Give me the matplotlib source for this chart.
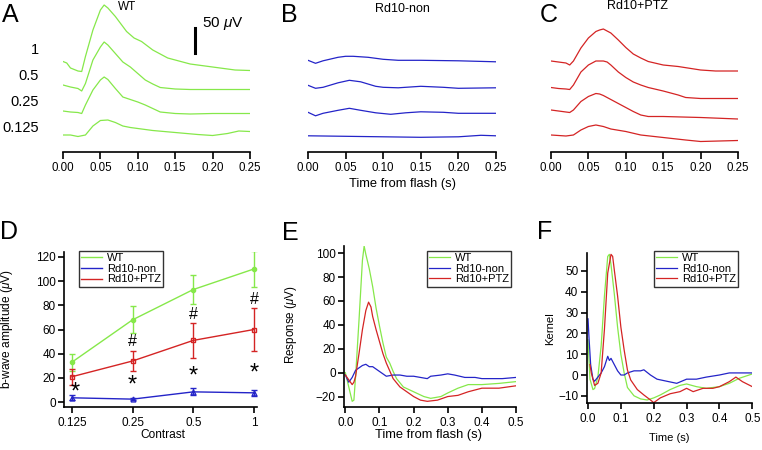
import matplotlib
matplotlib.use('Agg')
import matplotlib.pyplot as plt
import numpy as np

plt.rcParams['font.family'] = ['Liberation Sans', 'DejaVu Sans']
plt.rcParams['mathtext.fontset'] = 'custom'
plt.rcParams['mathtext.it'] = 'Liberation Sans:italic'
plt.rcParams['mathtext.rm'] = 'Liberation Sans'

GREEN = '#86e84a'
BLUE = '#2424c8'
RED = '#d42424'

# ---- panels A-C: flash responses (uV), four contrasts, top to bottom ----
contrast_labels = ['1', '0.5', '0.25', '0.125']

a_t1 = [0, .005, .01, .02, .025, .03, .04, .05, .055, .06, .07, .08, .085, .095, .105, .12, .14, .15, .17, .19, .21, .23, .25]
a_v1 = [10, 7, -3, -9, -10, 20, 73, 113, 123, 117, 100, 80, 70, 57, 50, 33, 17, 13, 5, 1, -3, -7, -8]
a_t2 = [0, .01, .02, .025, .03, .04, .05, .055, .06, .07, .08, .09, .10, .11, .12, .13, .15, .17, .20, .25]
a_v2 = [7, 3, 0, -5, 10, 57, 83, 93, 87, 70, 53, 43, 30, 17, 9, 2, -1, -2, -2, -2]
a_t3 = [0, .01, .02, .025, .03, .04, .05, .055, .06, .07, .08, .09, .10, .11, .12, .13, .15, .17, .20, .25]
a_v3 = [3, 1, 0, -2, 15, 45, 65, 71, 66, 48, 31, 26, 21, 15, 8, 1, -2, -3, -2, -2]
a_t4 = [0, .01, .02, .03, .04, .05, .06, .07, .08, .09, .10, .12, .15, .18, .20, .22, .235, .25]
a_v4 = [0, 0, -3, 0, 18, 29, 30, 25, 18, 15, 13, 9, 5, 1, -1, 3, 8, 7]

b_t1 = [0, .01, .02, .04, .05, .06, .08, .10, .12, .15, .20, .25]
b_v1 = [1, -5, 0, 7, 9, 9, 7, 3, 1, 1, 0, -2]
b_t2 = [0, .01, .02, .04, .055, .07, .09, .10, .12, .15, .18, .20, .25]
b_v2 = [3, -3, -1, 8, 13, 10, 1, -1, -2, 1, -1, -3, -2]
b_t3 = [0, .01, .02, .04, .055, .07, .09, .11, .13, .15, .18, .20, .25]
b_v3 = [1, -6, -1, 5, 9, 5, 0, -3, 0, 2, 1, -1, -1]
b_t4 = [0, .05, .10, .15, .20, .23, .25]
b_v4 = [1, 0, -1, -2, -1, 2, 1]

c_t1 = [0, .01, .02, .025, .03, .04, .05, .06, .065, .07, .08, .09, .10, .11, .12, .13, .15, .17, .20, .22, .25]
c_v1 = [3, 1, -1, -5, 3, 29, 49, 62, 65, 67, 59, 45, 30, 17, 9, 2, -5, -8, -15, -17, -17]
c_t2 = [0, .01, .02, .025, .03, .04, .05, .06, .07, .075, .08, .09, .10, .11, .12, .13, .15, .17, .18, .20, .25]
c_v2 = [2, 0, -1, -2, 7, 33, 47, 55, 55, 53, 47, 33, 22, 13, 7, 2, -5, -13, -18, -20, -20]
c_t3 = [0, .01, .025, .03, .04, .05, .06, .065, .07, .08, .09, .10, .11, .12, .13, .15, .20, .25]
c_v3 = [2, 0, -3, 2, 19, 29, 35, 34, 31, 23, 15, 7, -1, -8, -11, -11, -13, -16]
c_t4 = [0, .02, .03, .04, .05, .06, .07, .08, .10, .12, .15, .18, .20, .25]
c_v4 = [0, -2, 0, 10, 17, 20, 17, 12, 7, 0, -5, -10, -13, -11]

# ---- panel D: b-wave amplitude vs contrast ----
contrast = [0.125, 0.25, 0.5, 1]
wt_amp = [33, 68, 93, 110]
wt_err = [7, 11, 12, 14.5]
non_amp = [3.6, 2.5, 8.5, 7.7]
non_err = [2, 1, 3, 2.5]
ptz_amp = [21, 34, 51, 60]
ptz_err = [6.5, 8.5, 14.5, 17.5]
hash_x = [0.25, 0.5, 1]
hash_y = [50, 72, 85]
star_x = [0.13, 0.25, 0.5, 1]
star_y = [8, 14, 21, 23.5]

# ---- panel E: mean response (uV) ----
e_t_wt = [0, .01, .02, .025, .03, .04, .05, .055, .06, .07, .08, .09, .10, .11, .12, .13, .14, .15, .17, .20, .23, .25, .28, .30, .33, .36, .40, .45, .50]
e_v_wt = [0, -12, -24, -23, -3, 44, 94, 106, 99, 87, 72, 54, 39, 25, 13, 8, 1, -5, -12, -16, -20, -21.5, -20, -17, -13, -10, -10, -9, -7.5]
e_t_non = [0, .01, .02, .03, .05, .06, .07, .08, .09, .10, .11, .12, .14, .16, .18, .20, .22, .24, .25, .28, .30, .32, .35, .38, .40, .43, .46, .50]
e_v_non = [-2, -8, -4, 2, 6, 7, 5, 5, 3, 1, -1, -3, -2, -2, -3, -3, -4, -5, -3, -2, -1, -2, -4, -4, -5, -5, -5, -4]
e_t_ptz = [0, .01, .02, .025, .03, .04, .05, .06, .068, .075, .08, .09, .10, .11, .12, .14, .16, .18, .20, .22, .24, .27, .30, .33, .36, .40, .45, .50]
e_v_ptz = [-2, -6, -10, -8, -3, 16, 36, 52, 59, 55, 47, 36, 26, 16, 8, -5, -12, -16, -20, -23, -24, -23, -20, -19, -16, -13, -13, -11]

# ---- panel F: linear kernels ----
f_t_wt = [0, .006, .015, .02, .03, .04, .05, .06, .065, .07, .08, .09, .10, .11, .12, .14, .16, .18, .20, .22, .25, .28, .30, .33, .36, .40, .43, .46, .50]
f_v_wt = [17, -2, -7, -6.5, -1, 14, 38, 57, 58, 53, 39, 23, 10, 1, -6, -10, -11.5, -12, -11, -9.6, -7, -5, -4.3, -5.6, -6.4, -5.6, -4, -1.6, 0.5]
f_t_non = [0, .003, .008, .015, .02, .03, .04, .05, .06, .065, .07, .08, .09, .10, .11, .12, .14, .16, .17, .19, .21, .24, .27, .30, .33, .36, .40, .43, .46, .50]
f_v_non = [27, 18, 5, -2, -3, -1, 1, 4, 9, 7, 8, 5, 2, 0, 0, 1, 2, 2, 2.5, 0, -2, -3, -4, -2, -2, -1, 0, 1, 1, 1]
f_t_ptz = [0.006, .01, .02, .03, .04, .05, .06, .07, .075, .08, .09, .10, .11, .12, .13, .15, .17, .19, .20, .22, .25, .28, .30, .32, .35, .38, .40, .43, .45, .47, .50]
f_v_ptz = [5, 1, -5, -4, 1, 22, 49, 58, 57, 50.5, 38, 23, 12, 2.4, -2.4, -7, -9.6, -12, -13.3, -11, -9, -8, -6.4, -8, -6.4, -6.4, -5.6, -3.2, -1, -3.2, -5.6]

W, H = 762, 450
fig = plt.figure(figsize=(W / 100, H / 100), dpi=100)


def px_axes(x0, y0, x1, y1):
    return fig.add_axes([x0 / W, 1 - y1 / H, (x1 - x0) / W, (y1 - y0) / H])


def trace_panel(ax, traces, offsets, color, ylim):
    for (t, v), off in zip(traces, offsets):
        ax.plot(t, np.array(v) + off, color=color, lw=0.9)
    ax.set_xlim(0, 0.25)
    ax.set_ylim(*ylim)
    for s in ['top', 'right', 'left']:
        ax.spines[s].set_visible(False)
    ax.spines['bottom'].set_linewidth(1.2)
    ax.set_yticks([])
    ax.set_xticks([0, 0.05, 0.10, 0.15, 0.20, 0.25])
    ax.set_xticklabels(['0.00', '0.05', '0.10', '0.15', '0.20', '0.25'], fontsize=8.3)
    ax.tick_params(axis='x', direction='out', length=5, width=1.2, pad=2.5)
    ax.patch.set_alpha(0)


# A
axA = px_axes(63, 2, 250, 152)
trace_panel(axA, [(a_t1, a_v1), (a_t2, a_v2), (a_t3, a_v3), (a_t4, a_v4)],
            [137, 93, 45, 0], GREEN, (-34, 266))
axA.plot([0.177, 0.177], [164, 214], color='black', lw=2.2, clip_on=False)
axA.text(0.186, 222, '50 $\\mu$V', fontsize=11, va='center', ha='left')
axA.text(0.085, 256, 'WT', fontsize=8.5, ha='center', va='center')
for lab, y in zip(contrast_labels, [170, 118, 66, 14]):
    axA.text(-0.032, y, lab, fontsize=10.5, ha='right', va='center', clip_on=False)

# B
axB = px_axes(308, 2, 496, 152)
trace_panel(axB, [(b_t1, b_v1), (b_t2, b_v2), (b_t3, b_v3), (b_t4, b_v4)],
            [151, 99, 47, 0], BLUE, (-31.4, 268.6))
axB.text(0.126, 254, 'Rd10-non', fontsize=9, ha='center', va='center')
axB.set_xlabel('Time from flash (s)', fontsize=9.3)
axB.xaxis.set_label_coords(0.504, -0.173)

# C
axC = px_axes(551, 2, 738, 152)
trace_panel(axC, [(c_t1, c_v1), (c_t2, c_v2), (c_t3, c_v3), (c_t4, c_v4)],
            [145, 93, 48, 0], RED, (-34, 266))
axC.text(0.115, 258, 'Rd10+PTZ', fontsize=9, ha='center', va='center')


def style_axes(ax):
    for s in ['top', 'right']:
        ax.spines[s].set_visible(False)
    for s in ['left', 'bottom']:
        ax.spines[s].set_linewidth(1.2)
    ax.tick_params(direction='out', length=4, width=1.2, labelsize=8.5, pad=2)
    ax.tick_params(axis='x', pad=3.2)
    ax.patch.set_alpha(0)


def legend(ax, handles, labels, anchor):
    leg = ax.legend(handles, labels, loc='upper left', bbox_to_anchor=anchor, fontsize=8,
                    frameon=True, fancybox=False, borderaxespad=0,
                    handlelength=1.9, handletextpad=0.4, borderpad=0.2,
                    labelspacing=0.05)
    leg.get_frame().set_edgecolor('black')
    leg.get_frame().set_linewidth(1.0)


names = ['WT', 'Rd10-non', 'Rd10+PTZ']

# D
axD = px_axes(64, 252, 257, 407)
style_axes(axD)
axD.set_xscale('log', base=2)
axD.errorbar(contrast, wt_amp, yerr=wt_err, color=GREEN, marker='o', ms=3,
             lw=1, capsize=2.5, elinewidth=1)
axD.errorbar(contrast, non_amp, yerr=non_err, color=BLUE, marker='^', ms=3.5, mfc='none',
             lw=1, capsize=2.5, elinewidth=1)
axD.errorbar(contrast, ptz_amp, yerr=ptz_err, color=RED, marker='s', ms=3.5, mfc='none',
             lw=1, capsize=2.5, elinewidth=1)
for x, y in zip(hash_x, hash_y):
    axD.text(x, y, '#', fontsize=11.5, ha='center', va='center')
for x, y in zip(star_x, star_y):
    axD.text(x, y, '*', fontsize=17, ha='center', va='center')
axD.set_xlim(2 ** -3.13, 2 ** 0.05)
axD.set_ylim(-4, 124)
axD.set_xticks(contrast)
axD.set_xticklabels(['0.125', '0.25', '0.5', '1'])
axD.xaxis.set_minor_locator(matplotlib.ticker.NullLocator())
axD.set_yticks([0, 20, 40, 60, 80, 100, 120])
axD.set_xlabel('Contrast', fontsize=8.6)
axD.xaxis.set_label_coords(0.51, -0.14)
axD.set_ylabel('b-wave amplitude ($\\mu$V)', fontsize=8.6)
axD.yaxis.set_label_coords(-0.254, 0.5)
legend(axD, [plt.Line2D([], [], color=c, lw=1) for c in [GREEN, BLUE, RED]], names,
       (0.078, 1.006))

# E
axE = px_axes(344, 246, 516, 406.7)
style_axes(axE)
axE.plot(e_t_wt, e_v_wt, color=GREEN, lw=0.9)
axE.plot(e_t_non, e_v_non, color=BLUE, lw=0.9)
axE.plot(e_t_ptz, e_v_ptz, color=RED, lw=0.9)
axE.set_xlim(-0.004, 0.5)
axE.set_ylim(-28.5, 106)
axE.set_xticks([0, 0.1, 0.2, 0.3, 0.4, 0.5])
axE.set_xticklabels(['0.0', '0.1', '0.2', '0.3', '0.4', '0.5'])
axE.set_yticks([-20, 0, 20, 40, 60, 80, 100])
axE.set_xlabel('Time from flash (s)', fontsize=9.3)
axE.xaxis.set_label_coords(0.49, -0.14)
axE.set_ylabel('Response ($\\mu$V)', fontsize=8.4)
axE.yaxis.set_label_coords(-0.26, 0.51)
legend(axE, axE.get_lines(), names, (0.483, 0.969))

# F
axF = px_axes(586.7, 253.3, 752.3, 403.3)
style_axes(axF)
axF.plot(f_t_wt, f_v_wt, color=GREEN, lw=0.9)
axF.plot(f_t_non, f_v_non, color=BLUE, lw=0.9)
axF.plot(f_t_ptz, f_v_ptz, color=RED, lw=0.9)
axF.set_xlim(-0.004, 0.5)
axF.set_ylim(-13.6, 58.5)
axF.set_xticks([0, 0.1, 0.2, 0.3, 0.4, 0.5])
axF.set_xticklabels(['0.0', '0.1', '0.2', '0.3', '0.4', '0.5'])
axF.set_yticks([-10, 0, 10, 20, 30, 40, 50])
axF.set_xlabel('Time (s)', fontsize=8)
axF.xaxis.set_label_coords(0.50, -0.2)
axF.set_ylabel('Kernel', fontsize=8.2)
axF.yaxis.set_label_coords(-0.19, 0.5)
legend(axF, axF.get_lines(), names, (0.406, 1.015))

# panel letters
for lab, x, y in [('A', 10, 15), ('B', 289, 15), ('C', 549, 15),
                  ('D', 9, 232), ('E', 290, 233), ('F', 545, 232)]:
    fig.text(x / W, 1 - y / H, lab, fontsize=18, ha='center', va='center')

fig.savefig('out.png', dpi=100)
